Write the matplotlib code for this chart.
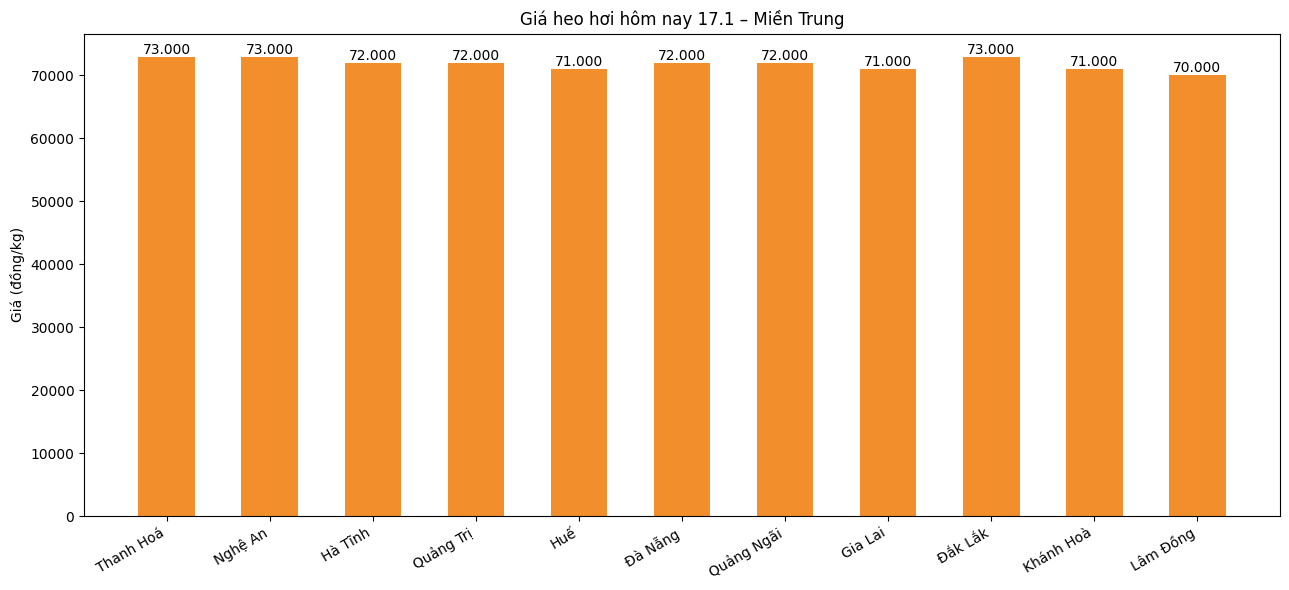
import matplotlib.pyplot as plt

provinces = ['Thanh Hoá', 'Nghệ An', 'Hà Tĩnh', 'Quảng Trị', 'Huế', 'Đà Nẵng',
             'Quảng Ngãi', 'Gia Lai', 'Đắk Lắk', 'Khánh Hoà', 'Lâm Đồng']
prices = [73000, 73000, 72000, 72000, 71000, 72000, 72000, 71000, 73000, 71000, 70000]

fig, ax = plt.subplots(figsize=(12.89, 5.9), dpi=100)
bars = ax.bar(provinces, prices, width=0.55, color='#F28E2B')

for b, v in zip(bars, prices):
    ax.text(b.get_x() + b.get_width() / 2, v, f'{v:,}'.replace(',', '.'),
            ha='center', va='bottom', fontsize=10)

ax.set_title('Giá heo hơi hôm nay 17.1 – Miền Trung')
ax.set_ylabel('Giá (đồng/kg)')
plt.xticks(rotation=30, ha='right')
plt.subplots_adjust(left=0.0652, right=0.993, top=0.943, bottom=0.1254)
plt.savefig('out.png')
